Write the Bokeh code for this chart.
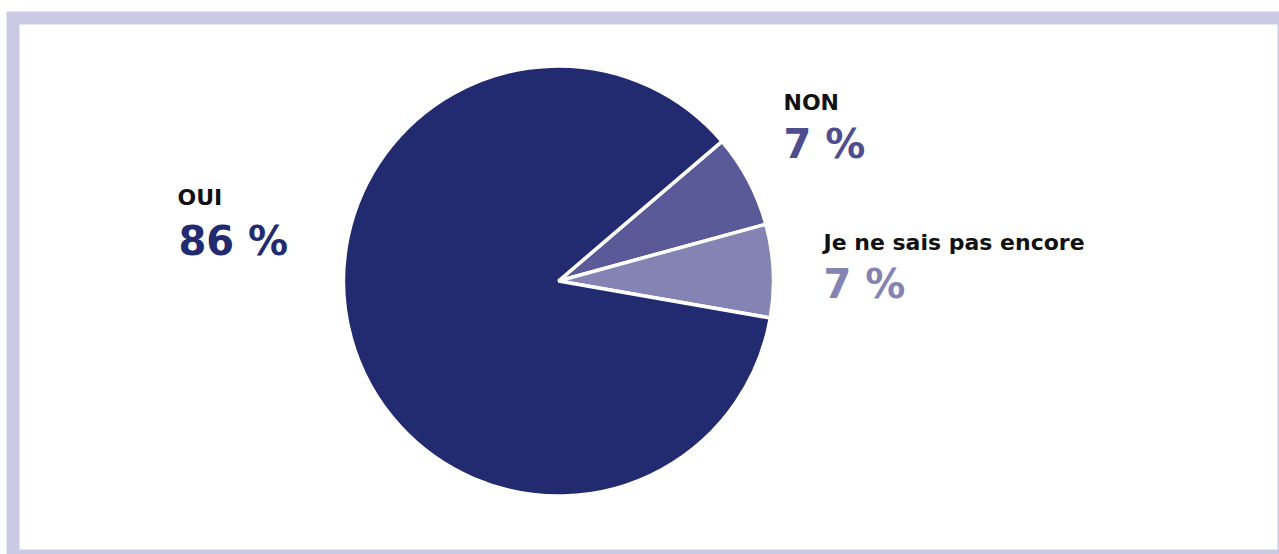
import math
from bokeh.plotting import figure
from bokeh.models import Range1d
from bokeh.core.properties import value
from bokeh.embed import file_html
from bokeh.resources import INLINE

# Data
categories = ["NON", "Je ne sais pas encore", "OUI"]
percentages = [7, 7, 86]
value_labels = ["7 %", "7 %", "86 %"]
slice_colors = ["#5B5A99", "#8582B4", "#222A70"]
label_colors = ["#4E4D90", "#8582B4", "#222A70"]

W, H = 1279, 554
p = figure(width=W, height=H, output_backend="svg", toolbar_location=None,
           x_range=Range1d(0, W), y_range=Range1d(0, H), min_border=0)
p.axis.visible = False
p.grid.visible = False
p.outline_line_color = None
p.background_fill_color = "white"
p.border_fill_color = "white"

def Y(py):
    return H - py

# frame
p.quad(left=[12.5], right=[1283.5], top=[Y(17.5)], bottom=[Y(555.5)],
       fill_color="white", line_color="#CBC9E3", line_width=13, line_join="miter")

# pie
cx, cy, r = 558, Y(280.5), 215
start = math.radians(40.5)
total = sum(percentages)
starts, ends = [], []
a = start
for v in percentages:
    starts.append(a)
    a = a - v / total * 2 * math.pi
    ends.append(a)
p.wedge(x=[cx] * 3, y=[cy] * 3, radius=r, start_angle=starts, end_angle=ends,
        direction="clock", fill_color=slice_colors, line_color="white", line_width=3.5)

# labels
font = value("DejaVu Sans")
NS, VS = 22, 40
name_pos = {"OUI": (177, 207), "NON": (783, 112), "Je ne sais pas encore": (823, 252)}
val_pos = {"OUI": (178, 258), "NON": (783, 161), "Je ne sais pas encore": (823, 301)}
for cat, lab, col in zip(categories, value_labels, label_colors):
    nx, ny = name_pos[cat]
    p.text(x=[nx], y=[Y(ny - 0.44 * NS)], text=[cat], text_font=font,
           text_font_size=f"{NS}px", text_font_style="bold", text_color="#111111",
           text_baseline="alphabetic", text_align="left")
    vx, vy = val_pos[cat]
    p.text(x=[vx], y=[Y(vy - 0.44 * VS)], text=[lab], text_font=font,
           text_font_size=f"{VS}px", text_font_style="bold", text_color=col,
           text_baseline="alphabetic", text_align="left")

open("out.html", "w").write(file_html(p, INLINE))
